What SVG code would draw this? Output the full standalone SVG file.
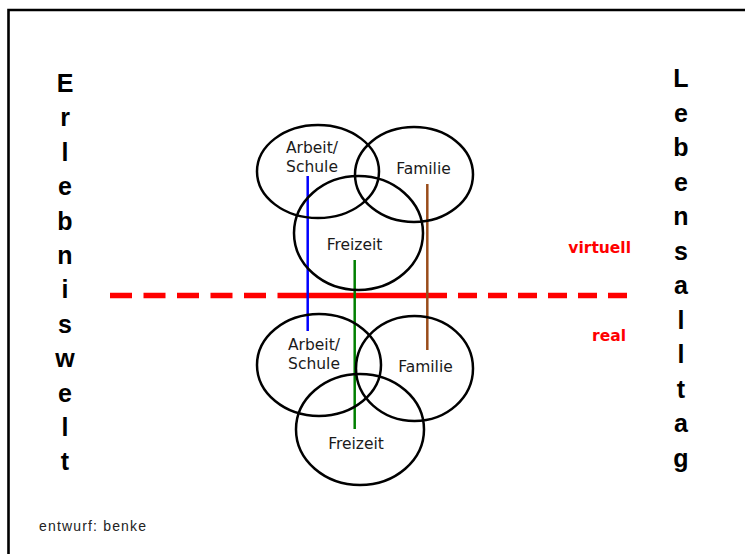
<svg xmlns="http://www.w3.org/2000/svg" width="745" height="554" viewBox="0 0 745 554">
<style>
.ring{fill:none;stroke:#000;stroke-width:2.5}
.lbl{font-family:"DejaVu Sans",Verdana,sans-serif;font-size:15.5px;fill:#1a1a1a;text-anchor:middle}
.big{font-family:"Liberation Sans",Arial,sans-serif;font-weight:bold;font-size:25px;fill:#000;text-anchor:middle}
.red{font-family:"DejaVu Sans",Verdana,sans-serif;font-weight:bold;font-size:15.5px;fill:#ff0000;text-anchor:end}
</style>
<rect width="745" height="554" fill="#fff"/>
<path d="M8.5 554 V10 H745" fill="none" stroke="#000" stroke-width="2.6"/>

<g id="connectors">
<line x1="110" y1="295.5" x2="278" y2="295.5" stroke="#ff0000" stroke-width="5.5" stroke-dasharray="22 11.5"/>
<line x1="278" y1="295.5" x2="447" y2="295.5" stroke="#ff0000" stroke-width="5.5"/>
<line x1="458" y1="295.5" x2="629" y2="295.5" stroke="#ff0000" stroke-width="5.5" stroke-dasharray="19 11"/>
<line x1="307.7" y1="176" x2="307.7" y2="331" stroke="#0000ff" stroke-width="2.5"/>
<line x1="427.3" y1="184" x2="427.3" y2="350" stroke="#994c1a" stroke-width="2.5"/>
<line x1="354.7" y1="260" x2="354.7" y2="429" stroke="#008000" stroke-width="2.5"/>
</g>

<g id="top-arbeit"><ellipse class="ring" cx="318" cy="171.5" rx="61" ry="46.5"/><text class="lbl" x="312" y="153">Arbeit/</text><text class="lbl" x="312" y="172">Schule</text></g>
<g id="top-familie"><ellipse class="ring" cx="414" cy="174.5" rx="59" ry="47.5"/><text class="lbl" x="423.5" y="174">Familie</text></g>
<g id="top-freizeit"><ellipse class="ring" cx="358.5" cy="233" rx="64.5" ry="57"/><text class="lbl" x="354.5" y="250">Freizeit</text></g>

<g id="bottom-arbeit"><ellipse class="ring" cx="319" cy="365" rx="62" ry="51"/><text class="lbl" x="314" y="350">Arbeit/</text><text class="lbl" x="314" y="369">Schule</text></g>
<g id="bottom-familie"><ellipse class="ring" cx="414.5" cy="368.5" rx="58.5" ry="52.5"/><text class="lbl" x="425.5" y="372">Familie</text></g>
<g id="bottom-freizeit"><ellipse class="ring" cx="360" cy="429.5" rx="64" ry="55.5"/><text class="lbl" x="356" y="449">Freizeit</text></g>

<text class="red" x="631" y="253">virtuell</text>
<text class="red" x="626" y="341">real</text>

<g id="erlebniswelt">
<text class="big" x="65" y="92">E</text>
<text class="big" x="65" y="126.4">r</text>
<text class="big" x="65" y="160.8">l</text>
<text class="big" x="65" y="195.2">e</text>
<text class="big" x="65" y="229.6">b</text>
<text class="big" x="65" y="264">n</text>
<text class="big" x="65" y="298.4">i</text>
<text class="big" x="65" y="332.8">s</text>
<text class="big" x="65" y="367.2">w</text>
<text class="big" x="65" y="401.6">e</text>
<text class="big" x="65" y="436">l</text>
<text class="big" x="65" y="470.4">t</text>
</g>
<g id="lebensalltag">
<text class="big" x="681" y="87">L</text>
<text class="big" x="681" y="121.5">e</text>
<text class="big" x="681" y="156">b</text>
<text class="big" x="681" y="190.5">e</text>
<text class="big" x="681" y="225">n</text>
<text class="big" x="681" y="259.5">s</text>
<text class="big" x="681" y="294">a</text>
<text class="big" x="681" y="328.5">l</text>
<text class="big" x="681" y="363">l</text>
<text class="big" x="681" y="397.5">t</text>
<text class="big" x="681" y="432">a</text>
<text class="big" x="681" y="466.5">g</text>
</g>

<text x="39" y="531" font-family="Liberation Sans, Arial, sans-serif" font-size="14" fill="#222" textLength="107">entwurf: benke</text>
</svg>
